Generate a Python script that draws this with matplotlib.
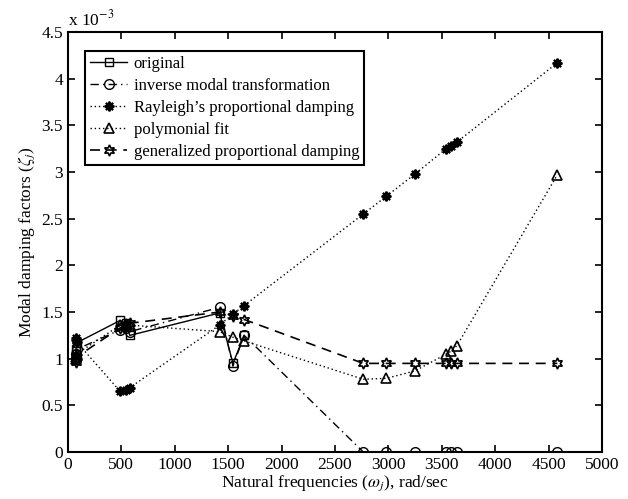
import numpy as np
import matplotlib
matplotlib.use("Agg")
import matplotlib.pyplot as plt

plt.rcParams['font.family'] = ['Liberation Serif', 'DejaVu Serif']
plt.rcParams['mathtext.fontset'] = 'stix'

# natural frequencies (rad/sec)
freq = [72, 77, 82, 490, 540, 580, 1420, 1545, 1650,
        2765, 2980, 3250, 3540, 3585, 3640, 4580]
# damping factors (x 1e-3)
original = [1.05, 1.10, 1.17, 1.41, 1.38, 1.25, 1.49, 0.95, 1.25]
inverse_modal = [1.00, 1.05, 1.10, 1.31, 1.33, 1.29, 1.55, 0.92, 1.25,
                 0, 0, 0, 0, 0, 0, 0]
rayleigh = [1.22, 1.20, 1.18, 0.65, 0.67, 0.69, 1.36, 1.48, 1.57,
            2.55, 2.74, 2.98, 3.25, 3.28, 3.32, 4.17]
polyfit = [1.00, 1.02, 1.05, 1.36, 1.37, 1.36, 1.29, 1.23, 1.19,
           0.78, 0.79, 0.87, 1.05, 1.08, 1.14, 2.97]
generalized = [0.97, 1.00, 1.02, 1.33, 1.36, 1.38, 1.50, 1.46, 1.42,
               0.95, 0.95, 0.95, 0.95, 0.95, 0.95, 0.95]

labels = ['original', 'inverse modal transformation',
          "Rayleigh\u2019s proportional damping", 'polymonial fit',
          'generalized proportional damping']

fig = plt.figure(figsize=(6.28, 4.99), dpi=100)
ax = fig.add_axes([0.108, 0.094, 0.851, 0.842])

fs = 12.5
ms = 6
dot = (1, 2)
ax.plot(freq[:len(original)], original, '-', color='k', lw=1.0,
        marker='s', mfc='none', mec='k', ms=ms, label=labels[0])
ax.plot(freq, inverse_modal, color='k', lw=1.0, dashes=(6, 3, 1, 3),
        marker='o', mfc='none', mec='k', ms=ms + 1, label=labels[1])
ax.plot(freq, rayleigh, color='k', lw=1.0, dashes=dot,
        marker=(8, 2, 0), mec='k', ms=ms + 1, mew=1.5, label=labels[2])
ax.plot(freq, polyfit, color='k', lw=1.0, dashes=dot,
        marker='^', mfc='none', mec='k', ms=ms + 1, mew=1.2, label=labels[3])
ax.plot(freq, generalized, color='k', lw=1.2, dashes=(6, 4),
        marker=(6, 1, 0), mfc='none', mec='k', ms=ms + 2, mew=1.2, label=labels[4])

ax.set_xlim(0, 5000)
ax.set_ylim(0, 4.5)
ax.set_xticks(np.arange(0, 5001, 500))
ax.set_yticks(np.arange(0, 4.51, 0.5))
ax.set_yticklabels(['0', '0.5', '1', '1.5', '2', '2.5', '3', '3.5', '4', '4.5'])
ax.tick_params(direction='in', top=True, right=True, labelsize=fs, width=1.2, length=5)
for s in ax.spines.values():
    s.set_linewidth(1.5)

ax.text(0.0, 1.005, r'x 10$^{-3}$', transform=ax.transAxes, fontsize=fs,
        ha='left', va='bottom')

ax.set_xlabel(r'Natural frequencies ($\omega_j$), rad/sec', fontsize=fs, labelpad=0)
ax.set_ylabel(r'Modal damping factors ($\zeta_j$)', fontsize=fs, labelpad=3)

leg = ax.legend(loc='upper left', bbox_to_anchor=(0.033, 0.955), fontsize=12,
                frameon=True, fancybox=False, edgecolor='k', framealpha=1,
                handlelength=2.2, borderpad=0.3, labelspacing=0.36, handletextpad=0.4,
                borderaxespad=0)
leg.get_frame().set_linewidth(1.5)

fig.savefig('out.png', dpi=100)
